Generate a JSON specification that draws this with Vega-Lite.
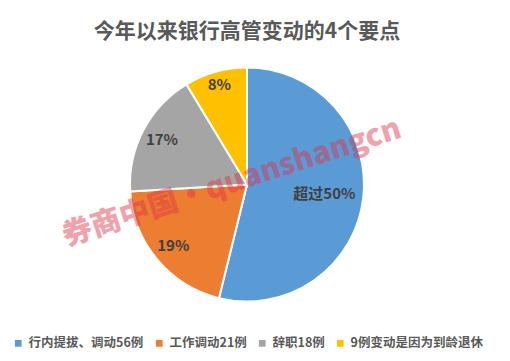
{
  "$schema": "https://vega.github.io/schema/vega-lite/v6.json",
  "autosize": {"type": "fit", "contains": "padding"},
  "width": 510,
  "height": 361,
  "padding": {"left": 12, "right": 28, "top": 21, "bottom": 11},
  "background": "#ffffff",
  "title": {
    "text": "今年以来银行高管变动的4个要点",
    "fontSize": 21,
    "fontWeight": "bold",
    "color": "#595959",
    "font": "Noto Sans CJK SC",
    "anchor": "middle",
    "offset": 6
  },
  "datasets": {
    "cases": [
      {"type": "行内提拔、调动56例", "count": 56, "label": "超过50%", "rank": 1},
      {"type": "工作调动21例", "count": 21, "label": "19%", "rank": 2},
      {"type": "辞职18例", "count": 18, "label": "17%", "rank": 3},
      {"type": "9例变动是因为到龄退休", "count": 9, "label": "8%", "rank": 4}
    ],
    "mark_text": [
      {"text": "券商中国·quanshangcn"}
    ]
  },
  "layer": [
    {
      "data": {"name": "cases"},
      "mark": {"type": "arc", "outerRadius": 117, "stroke": "#ffffff", "strokeWidth": 2},
      "encoding": {
        "theta": {"field": "count", "type": "quantitative", "stack": true},
        "order": {"field": "rank", "type": "ordinal"},
        "color": {
          "field": "type",
          "type": "nominal",
          "scale": {
            "domain": ["行内提拔、调动56例", "工作调动21例", "辞职18例", "9例变动是因为到龄退休"],
            "range": ["#5b9bd5", "#ed7d31", "#a5a5a5", "#ffc000"]
          },
          "legend": {
            "orient": "bottom",
            "direction": "horizontal",
            "title": null,
            "symbolType": "square",
            "symbolSize": 45,
            "symbolStrokeWidth": 0,
            "labelFontSize": 12.5,
            "labelFontWeight": "bold",
            "labelColor": "#595959",
            "labelFont": "Noto Sans CJK SC",
            "labelLimit": 300,
            "columnPadding": 9,
            "symbolOffset": 0,
            "offset": 16
          }
        }
      }
    },
    {
      "data": {"name": "cases"},
      "mark": {"type": "text", "radius": 78, "fontSize": 15, "fontWeight": "bold", "font": "Noto Sans CJK SC", "fill": "#404040"},
      "encoding": {
        "theta": {"field": "count", "type": "quantitative", "stack": true},
        "order": {"field": "rank", "type": "ordinal"},
        "text": {"condition": {"test": "datum.rank == 1", "field": "label"}, "value": ""}
      }
    },
    {
      "data": {"name": "cases"},
      "mark": {"type": "text", "radius": 96, "fontSize": 15, "fontWeight": "bold", "font": "Noto Sans CJK SC", "fill": "#404040"},
      "encoding": {
        "theta": {"field": "count", "type": "quantitative", "stack": true},
        "order": {"field": "rank", "type": "ordinal"},
        "text": {"condition": {"test": "datum.rank == 2 || datum.rank == 3", "field": "label"}, "value": ""}
      }
    },
    {
      "data": {"name": "cases"},
      "mark": {"type": "text", "radius": 103, "fontSize": 15, "fontWeight": "bold", "font": "Noto Sans CJK SC", "fill": "#404040"},
      "encoding": {
        "theta": {"field": "count", "type": "quantitative", "stack": true},
        "order": {"field": "rank", "type": "ordinal"},
        "text": {"condition": {"test": "datum.rank == 4", "field": "label"}, "value": ""}
      }
    },
    {
      "data": {"name": "mark_text"},
      "mark": {
        "type": "text",
        "angle": -18,
        "fontSize": 30,
        "fontWeight": 900,
        "font": "Noto Sans CJK SC",
        "fill": "#e0334a",
        "opacity": 0.45,
        "dx": -14,
        "dy": -6
      },
      "encoding": {
        "text": {"field": "text", "type": "nominal"}
      }
    }
  ],
  "config": {
    "view": {"stroke": null}
  }
}
